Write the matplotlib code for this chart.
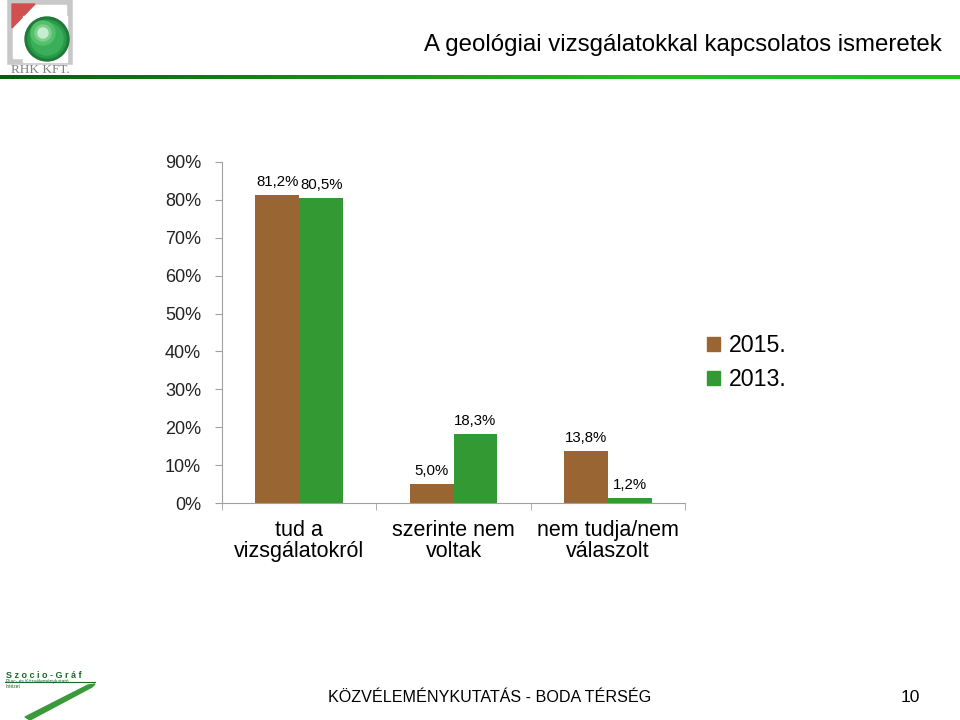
import matplotlib.pyplot as plt
import numpy as np
from matplotlib.patches import Patch, Circle, Rectangle, Polygon
from matplotlib.colors import LinearSegmentedColormap

plt.rcParams['font.family'] = ['Liberation Sans', 'DejaVu Sans']

# adatok
kategoriak = ['tud a\nvizsgálatokról', 'szerinte nem\nvoltak', 'nem tudja/nem\nválaszolt']
ertekek_2015 = [81.2, 5.0, 13.8]
ertekek_2013 = [80.5, 18.3, 1.2]
cimkek_2015 = ['81,2%', '5,0%', '13,8%']
cimkek_2013 = ['80,5%', '18,3%', '1,2%']
y_tickek = [0, 10, 20, 30, 40, 50, 60, 70, 80, 90]

barna = '#996633'
zold = '#339933'

fig = plt.figure(figsize=(9.6, 7.2), dpi=100)

# fo diagram
ax = fig.add_axes([222/960, 1-503/720, 463/960, (503-162)/720])
x = np.arange(len(kategoriak))
w = 0.285
ax.bar(x - w/2, ertekek_2015, w, color=barna, label='2015.')
ax.bar(x + w/2, ertekek_2013, w, color=zold, label='2013.')

for i in range(len(kategoriak)):
    ax.text(x[i] - w/2, ertekek_2015[i] + 1.6, cimkek_2015[i], ha='center', va='bottom', fontsize=10.8)
    ax.text(x[i] + w/2, ertekek_2013[i] + 1.6, cimkek_2013[i], ha='center', va='bottom', fontsize=10.8)

ax.set_xlim(-0.5, 2.5)
ax.set_ylim(0, 90)
ax.set_yticks(y_tickek)
ax.set_yticklabels([f'{t}%' for t in y_tickek], fontsize=13, color='#222222')
ax.set_xticks(x)
ax.set_xticklabels(kategoriak, fontsize=15.5, linespacing=1.0)
ax.tick_params(axis='x', length=0, pad=12)
ax.tick_params(axis='y', length=5, color='#a0a0a0', pad=10)
ax.set_xticks([-0.5, 0.5, 1.5, 2.5], minor=True)
ax.tick_params(axis='x', which='minor', length=5, color='#a0a0a0')
for s in ['top', 'right']:
    ax.spines[s].set_visible(False)
for s in ['left', 'bottom']:
    ax.spines[s].set_color('#a0a0a0')

fig.legend(handles=[Patch(color=barna, label='2015.'), Patch(color=zold, label='2013.')],
           loc='upper left', bbox_to_anchor=(686/960, 1-313/720), frameon=False,
           fontsize=16.7, handlelength=0.55, handleheight=0.55, handletextpad=0.4,
           labelspacing=0.5)

# fejlec
fig.text(942/960, 1-45/720, 'A geológiai vizsgálatokkal kapcsolatos ismeretek',
         ha='right', va='center', fontsize=17.3)

# zold szinatmenetes vonal
lax = fig.add_axes([0, 1-79/720, 1, 4/720])
cmap = LinearSegmentedColormap.from_list('zold', ['#0a5a14', '#1a8a1a', '#22c022', '#18c818'])
lax.imshow(np.linspace(0, 1, 256).reshape(1, -1), aspect='auto', cmap=cmap)
lax.axis('off')

# RHK logo
gax = fig.add_axes([5/960, 1-66/720, 70/960, 66/720])
gax.set_xlim(0, 70)
gax.set_ylim(0, 66)
gax.axis('off')
gax.add_patch(Rectangle((5, 4), 60, 60, fill=False, edgecolor='#c8c8c8', lw=4))
gax.add_patch(Polygon([[7, 62], [30, 62], [7, 38]], color='#d05050'))
gax.add_patch(Rectangle((18, 4), 44, 46, color='white'))
for r, c in zip([22, 19, 16, 12, 8, 5], ['#1f7a3a', '#2a9a48', '#3aae58', '#55c06c', '#7fd08e', '#c8ecd0']):
    gax.add_patch(Circle((42, 27) if r > 13 else (38, 33), r, color=c))
fig.text(40/960, 1-70/720, 'RHK KFT.', ha='center', va='center', fontsize=9.5,
         family=['Liberation Serif', 'DejaVu Serif'], color='#808080')

# lablec
fig.text(328/960, 1-697/720, 'KÖZVÉLEMÉNYKUTATÁS - BODA TÉRSÉG', ha='left', va='center',
         fontsize=11.6, family=['Liberation Sans Narrow', 'Liberation Sans', 'DejaVu Sans'])
fig.text(910/960, 1-697/720, '10', ha='center', va='center', fontsize=12.5,
         family=['Liberation Sans Narrow', 'Liberation Sans', 'DejaVu Sans'])

# Szocio-Graf logo
fig.text(6/960, 1-675/720, 'S z o c i o - G r á f', ha='left', va='center', fontsize=6.5,
         color='#1a6a2a', fontweight='bold')
fig.text(6/960, 1-684/720, 'Piac- és Közvéleménykutató\nIntézet', ha='left', va='center',
         fontsize=3.5, color='#1a6a2a', linespacing=1.0)
pax = fig.add_axes([0, 1-720/720, 100/960, 50/720])
pax.set_xlim(0, 100)
pax.set_ylim(0, 50)
pax.axis('off')
pax.add_patch(Polygon([[25, 3], [30, 0], [92, 33], [95, 36], [88, 35]], color='#3a9a3a'))
pax.plot([5, 95], [38, 38], color='#1a6a2a', lw=0.8)

fig.savefig('out.png', dpi=100)
